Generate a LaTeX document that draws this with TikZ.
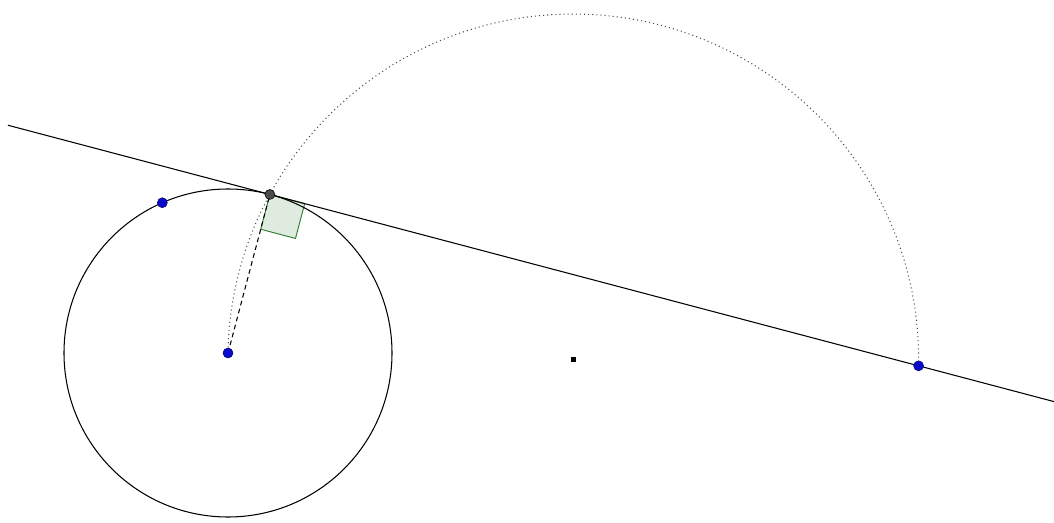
\documentclass[tikz,border=0pt]{standalone}
\usepackage{xcolor}
\usetikzlibrary{calc}
\definecolor{pointBlue}{HTML}{0A0ACC}
\definecolor{angleGreen}{HTML}{2E7D32}

\begin{document}
\begin{tikzpicture}[x=0.03cm, y=0.03cm]
    \useasboundingbox (0,0) rectangle (1054,522);
    \tikzset{
        pt/.style={circle, fill=pointBlue, draw=pointBlue!60!black, line width=0.5pt, inner sep=0pt, minimum size=8.5pt},
        tpt/.style={circle, fill=black!70, draw=black, line width=0.5pt, inner sep=0pt, minimum size=8.5pt},
        mpt/.style={rectangle, fill=black, inner sep=0pt, minimum size=4pt}
    }
    % circle, point of tangency, far point on the tangent
    \coordinate (C) at (228,169);
    \coordinate (T) at ($(C)+(75.2:164)$);
    \coordinate (Q) at ($(C)+(113.6:164)$);
    \coordinate (P) at ($(T)+(-14.8:671)$);
    \coordinate (M) at ($(C)!0.5!(P)$);
    \coordinate (L1) at ($(T)+(165.2:271)$);
    \coordinate (L2) at ($(T)+(-14.8:811)$);
    % right angle mark
    \filldraw[fill=angleGreen!15, draw=angleGreen, line width=0.8pt]
        (T) -- ++(-14.8:36) -- ++(255.2:36) -- ++(165.2:36) -- cycle;
    \draw[line width=0.9pt] (C) circle[radius=164];
    \draw[line width=0.9pt] (L1) -- (L2);
    \draw[line width=0.9pt, dash pattern=on 4pt off 3pt] (C) -- (T);
    \draw[gray!60!black, line width=0.9pt, dash pattern=on 0.9pt off 2.6pt]
        (P) arc[start angle=-1.06, end angle=178.94, radius=345.4];
    % points
    \node[pt] (Cpt) at (C) {};
    \node[pt] (Qpt) at (Q) {};
    \node[pt] (Ppt) at (P) {};
    \node[tpt] (Tpt) at (T) {};
    \node[mpt] (Mpt) at (M) {};
\end{tikzpicture}
\end{document}
